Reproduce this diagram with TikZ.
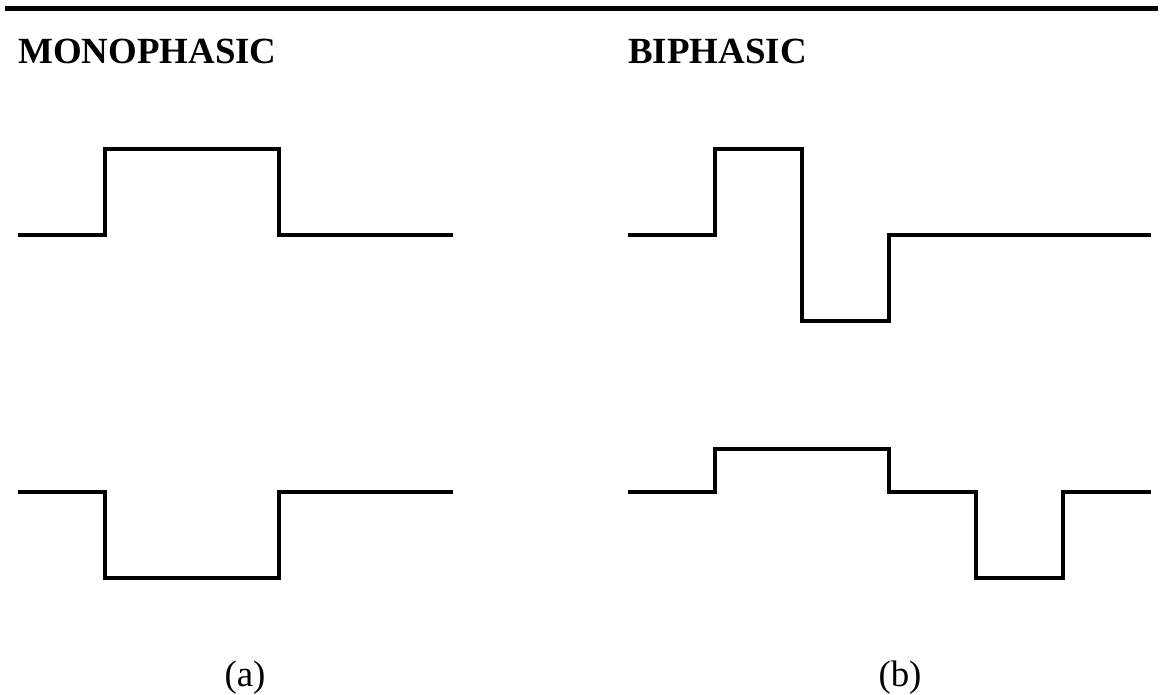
\documentclass[tikz,border=0pt]{standalone}
\usepackage{fontspec}
\setmainfont{Liberation Serif}
\usepackage{tikz}
\tikzstyle{pulse} = [line width=0.08cm, line join=miter]
\tikzstyle{rule} = [line width=0.1cm]
\tikzstyle{title} = [anchor=base west, inner sep=0pt, font=\fontsize{21}{25}\selectfont\bfseries]
\tikzstyle{caption} = [anchor=base, inner sep=0pt, font=\fontsize{21}{25}\selectfont]

\begin{document}
\begin{tikzpicture}[x=0.02cm, y=-0.02cm]
\useasboundingbox (0,0) rectangle (1168,695);
\coordinate (ruleleft) at (5,8.5);
\coordinate (ruleright) at (1158,8.5);
\draw [rule] (ruleleft) -- (ruleright);
\node (mono) [title] at (18,64) {MONOPHASIC};
\node (bi) [title] at (628,64) {BIPHASIC};
% monophasic pulses
\draw [pulse] (18,235) -| (105,149) -| (279,235) -- (453,235);
\draw [pulse] (18,492) -| (105,578) -| (279,492) -- (453,492);
% biphasic pulses
\draw [pulse] (628,235) -| (715,149) -| (802,321) -| (889,235) -- (1151,235);
\draw [pulse] (628,492) -| (715,449) -| (889,492) -| (976,578) -| (1063,492) -- (1151,492);
\node (capa) [caption] at (245,686) {(a)};
\node (capb) [caption] at (900,686) {(b)};
\end{tikzpicture}
\end{document}
